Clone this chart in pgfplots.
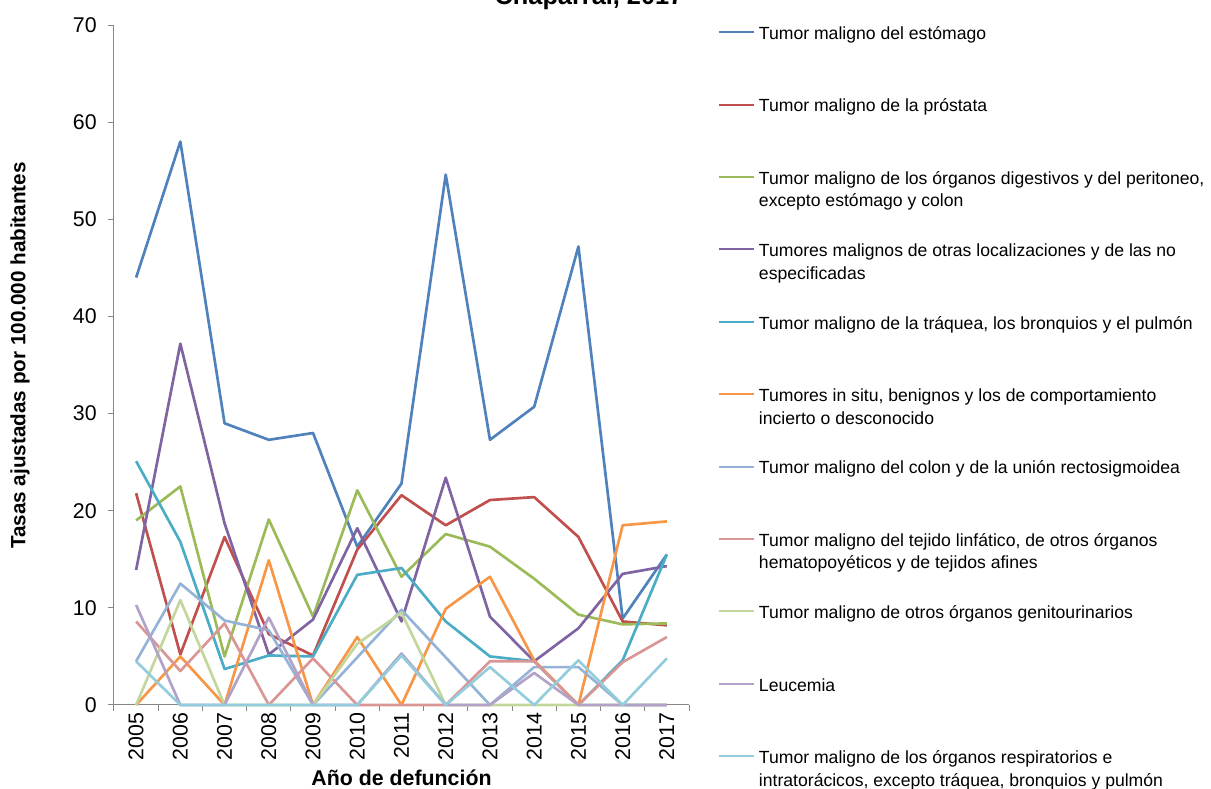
\documentclass[border=0pt]{standalone}
\usepackage{fontspec}
\setmainfont{Liberation Sans}
\usepackage{pgfplots}
\pgfplotsset{compat=1.18}
\definecolor{axgray}{HTML}{868686}
\definecolor{cA}{HTML}{4F81BD}
\definecolor{cB}{HTML}{C0504D}
\definecolor{cC}{HTML}{9BBB59}
\definecolor{cD}{HTML}{8064A2}
\definecolor{cE}{HTML}{4BACC6}
\definecolor{cF}{HTML}{F79646}
\definecolor{cG}{HTML}{95B3D7}
\definecolor{cH}{HTML}{D99694}
\definecolor{cI}{HTML}{C3D69B}
\definecolor{cJ}{HTML}{B3A2C7}
\definecolor{cK}{HTML}{93CDDD}
\newcommand{\two}[2]{\begin{tabular}[t]{@{}l@{}}#1\\#2\end{tabular}}
\begin{document}
\begin{tikzpicture}
\path[use as bounding box] (0,0) rectangle (908.25pt,591.75pt);
\begin{axis}[
  at={(85.5pt,63pt)}, anchor=south west,
  scale only axis, width=431.25pt, height=510pt,
  xmin=2004.5, xmax=2017.5, ymin=0, ymax=70,
  clip=false,
  axis x line*=bottom, axis y line*=left,
  axis line style={draw=axgray, line width=0.75pt, -},
  xtick={2005,2006,2007,2008,2009,2010,2011,2012,2013,2014,2015,2016,2017},
  xticklabels={2005,2006,2007,2008,2009,2010,2011,2012,2013,2014,2015,2016,2017},
  minor xtick={2004.5,2005.5,2006.5,2007.5,2008.5,2009.5,2010.5,2011.5,2012.5,2013.5,2014.5,2015.5,2016.5,2017.5},
  major x tick style={draw=none},
  ytick={0,10,20,30,40,50,60,70},
  tick align=outside,
  major tick length=4.5pt, minor tick length=4.5pt,
  tick style={draw=axgray, line width=0.75pt},
  /pgf/number format/assume math mode=true,
  xticklabel style={rotate=90, anchor=east, font=\fontsize{16}{16}\selectfont, inner sep=1pt},
  yticklabel style={font=\fontsize{16}{16}\selectfont, xshift=-5pt},
  xlabel={Año de defunción},
  xlabel style={at={(axis description cs:0.5,0)}, anchor=center, yshift=-54.75pt, font=\bfseries\fontsize{16}{16}\selectfont},
  ylabel={Tasas ajustadas por 100.000 habitantes},
  ylabel style={at={(axis description cs:-0.1635,0.514)}, anchor=center, font=\bfseries\fontsize{15.5}{15.5}\selectfont},
  every axis plot/.append style={line width=2pt, line join=round},
  legend image code/.code={\draw[#1, line width=1.5pt] (0pt,5.5pt) -- (26.25pt,5.5pt);},
  legend cell align=left,
  legend style={at={(1.0504,0.9983)}, anchor=north west, draw=none, fill=none,
    inner sep=0pt, outer sep=0pt, column sep=3pt, row sep=0pt,
    cells={anchor=base west},
    nodes={inner sep=0pt, text height=10pt, text depth=44.3pt, font=\fontsize{13.2}{17.0}\selectfont}},
]
\addplot[cA] coordinates {(2005,44.0) (2006,58.0) (2007,29.0) (2008,27.3) (2009,28.0) (2010,16.3) (2011,22.8) (2012,54.6) (2013,27.3) (2014,30.7) (2015,47.2) (2016,8.9) (2017,15.5)};
\addlegendentry{Tumor maligno del estómago}
\addplot[cB] coordinates {(2005,21.8) (2006,5.2) (2007,17.3) (2008,7.3) (2009,5.1) (2010,16.0) (2011,21.6) (2012,18.5) (2013,21.1) (2014,21.4) (2015,17.3) (2016,8.6) (2017,8.2)};
\addlegendentry{Tumor maligno de la próstata}
\addplot[cC] coordinates {(2005,19.0) (2006,22.5) (2007,5.0) (2008,19.1) (2009,9.1) (2010,22.1) (2011,13.2) (2012,17.6) (2013,16.3) (2014,13.0) (2015,9.3) (2016,8.3) (2017,8.4)};
\addlegendentry{\two{Tumor maligno de los órganos digestivos y del peritoneo,}{excepto estómago y colon}}
\addplot[cD] coordinates {(2005,13.9) (2006,37.2) (2007,18.7) (2008,5.2) (2009,8.8) (2010,18.2) (2011,8.6) (2012,23.4) (2013,9.1) (2014,4.5) (2015,7.9) (2016,13.5) (2017,14.3)};
\addlegendentry{\two{Tumores malignos de otras localizaciones y de las no}{especificadas}}
\addplot[cE] coordinates {(2005,25.1) (2006,16.8) (2007,3.7) (2008,5.1) (2009,5.0) (2010,13.4) (2011,14.1) (2012,8.6) (2013,5.0) (2014,4.5) (2015,0) (2016,4.6) (2017,15.5)};
\addlegendentry{Tumor maligno de la tráquea, los bronquios y el pulmón}
\addplot[cF] coordinates {(2005,0) (2006,5.0) (2007,0) (2008,14.9) (2009,0) (2010,7.0) (2011,0) (2012,9.9) (2013,13.2) (2014,4.6) (2015,0) (2016,18.5) (2017,18.9)};
\addlegendentry{\two{Tumores in situ, benignos y los de comportamiento}{incierto o desconocido}}
\addplot[cG] coordinates {(2005,4.5) (2006,12.5) (2007,8.7) (2008,7.7) (2009,0) (2010,4.9) (2011,9.8) (2012,4.9) (2013,0) (2014,3.9) (2015,3.9) (2016,0) (2017,0)};
\addlegendentry{Tumor maligno del colon y de la unión rectosigmoidea}
\addplot[cH] coordinates {(2005,8.6) (2006,3.5) (2007,8.4) (2008,0) (2009,4.8) (2010,0) (2011,0) (2012,0) (2013,4.5) (2014,4.5) (2015,0) (2016,4.4) (2017,7.0)};
\addlegendentry{\two{Tumor maligno del tejido linfático, de otros órganos}{hematopoyéticos y de tejidos afines}}
\addplot[cI] coordinates {(2005,0) (2006,10.8) (2007,0) (2008,0) (2009,0) (2010,6.3) (2011,9.5) (2012,0) (2013,0) (2014,0) (2015,0) (2016,0) (2017,0)};
\addlegendentry{Tumor maligno de otros órganos genitourinarios}
\addplot[cJ] coordinates {(2005,10.3) (2006,0) (2007,0) (2008,9.0) (2009,0) (2010,0) (2011,5.3) (2012,0) (2013,0) (2014,3.3) (2015,0) (2016,0) (2017,0)};
\addlegendentry{Leucemia}
\addplot[cK] coordinates {(2005,4.5) (2006,0) (2007,0) (2008,0) (2009,0) (2010,0) (2011,5.1) (2012,0) (2013,3.9) (2014,0) (2015,4.6) (2016,0) (2017,4.8)};
\addlegendentry{\two{Tumor maligno de los órganos respiratorios e}{intratorácicos, excepto tráquea, bronquios y pulmón}}
\end{axis}
\node[anchor=base, font=\bfseries\fontsize{19}{19}\selectfont] at (441.75pt,588pt) {Chaparral, 2017};
\end{tikzpicture}
\end{document}
